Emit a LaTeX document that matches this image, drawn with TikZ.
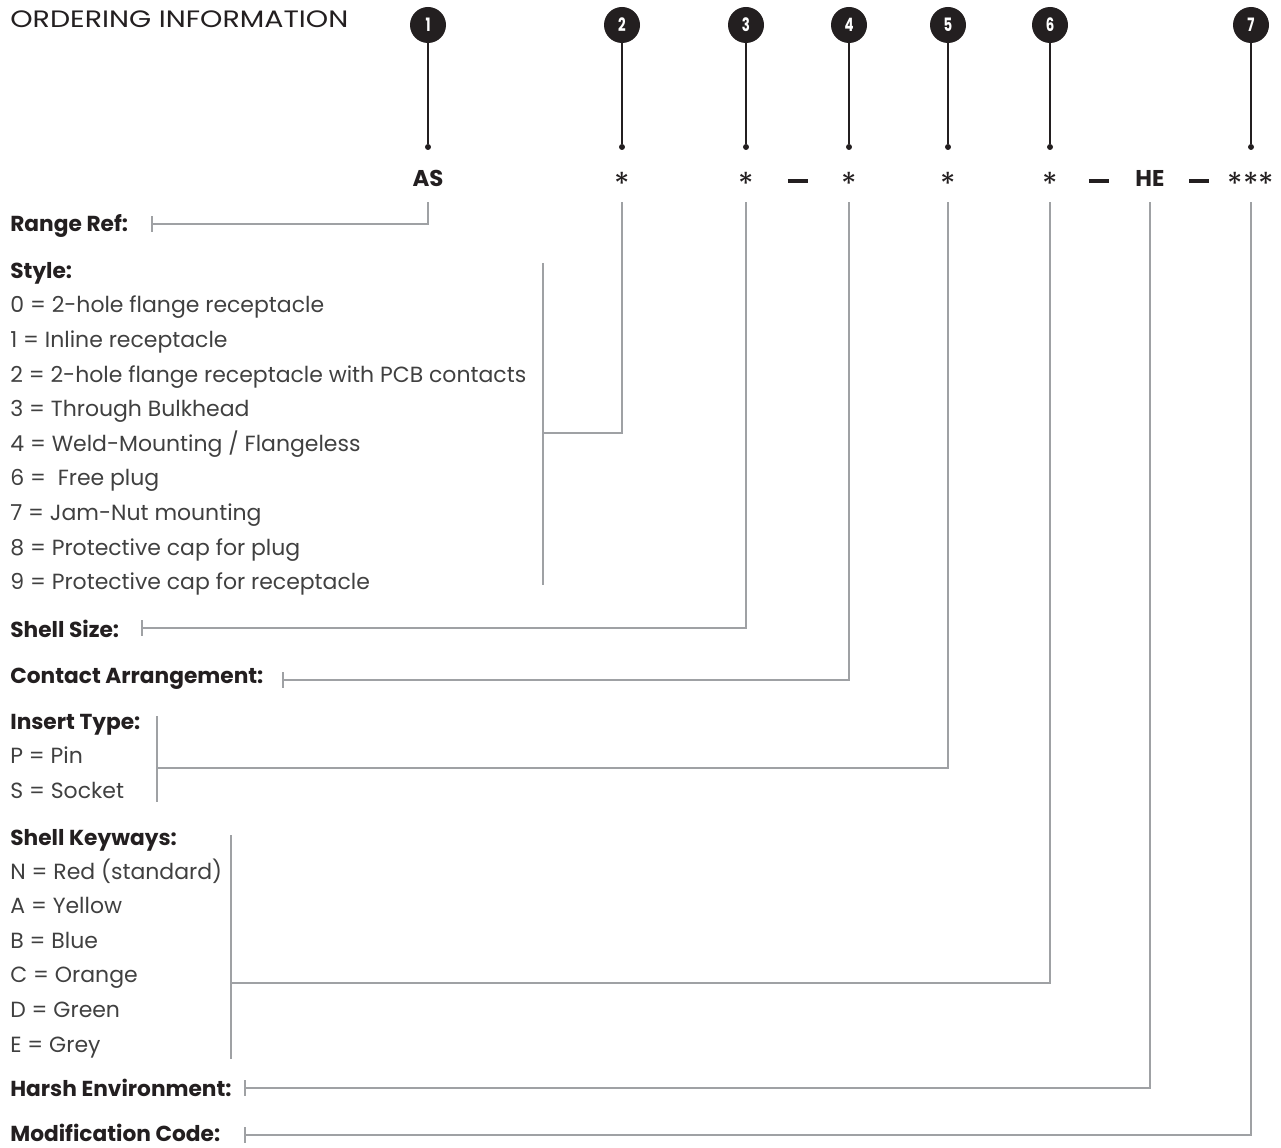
\documentclass[tikz,border=0pt]{standalone}
\usepackage{fontspec}
\setmainfont{Poppins}
\usetikzlibrary{arrows.meta, positioning, calc}
\definecolor{inkdark}{HTML}{231F20}
\definecolor{inkitem}{HTML}{404040}
\definecolor{guidegrey}{HTML}{9FA1A4}
\tikzset{
  numdisc/.style={
    circle, fill=inkdark, text=white, inner sep=0pt,
    minimum size=0.72cm, font=\bfseries\fontsize{10.5}{10.5}\selectfont
  },
  dotmark/.style={circle, fill=inkdark, inner sep=0pt, minimum size=3.4pt},
  stem/.style={draw=inkdark, line width=0.8pt},
  code/.style={
    anchor=base, inner xsep=0pt, inner ysep=8.5pt, text=inkdark,
    font=\bfseries\fontsize{13}{13}\selectfont
  },
  title/.style={anchor=base west, inner sep=0pt, text=inkdark,
    font=\fontsize{13.5}{14}\selectfont},
  head/.style={anchor=base west, inner sep=0pt, text=inkdark,
    font=\bfseries\fontsize{12.35}{13}\selectfont},
  item/.style={anchor=base west, inner sep=0pt, text=inkitem,
    font=\fontsize{12.5}{13}\selectfont},
  guide/.style={draw=guidegrey, line width=0.9pt},
  lead/.style={guide, {Bar[width=9pt,line width=0.9pt]}-}
}
\newcommand{\disc}[1]{\scalebox{0.72}[1]{#1}}
\newcommand{\wild}[1]{\raisebox{-4.6pt}[\height][0pt]{\mdseries\fontsize{18}{18}\selectfont #1}}
\newcommand{\joiner}{\rule[2.3pt]{11.4pt}{2.2pt}}

\begin{document}
\begin{tikzpicture}[x=0.02cm, y=-0.02cm]
  \useasboundingbox (0,0) rectangle (1281,1148);
  \node[title] (hTitle) at (10,28) {\scalebox{1.2}[1]{ORDERING INFORMATION}};

  % numbered discs and stems
  \node[numdisc] (n1) at (428,25) {\disc{1}};
  \node[numdisc] (n2) at (622,25) {\disc{2}};
  \node[numdisc] (n3) at (746,25) {\disc{3}};
  \node[numdisc] (n4) at (849,25) {\disc{4}};
  \node[numdisc] (n5) at (948,25) {\disc{5}};
  \node[numdisc] (n6) at (1050,25) {\disc{6}};
  \node[numdisc] (n7) at (1251,25) {\disc{7}};
  \node[dotmark] (d1) at (428,147) {};
  \node[dotmark] (d2) at (622,147) {};
  \node[dotmark] (d3) at (746,147) {};
  \node[dotmark] (d4) at (849,147) {};
  \node[dotmark] (d5) at (948,147) {};
  \node[dotmark] (d6) at (1050,147) {};
  \node[dotmark] (d7) at (1251,147) {};
  \draw[stem] (n1) -- (d1);
  \draw[stem] (n2) -- (d2);
  \draw[stem] (n3) -- (d3);
  \draw[stem] (n4) -- (d4);
  \draw[stem] (n5) -- (d5);
  \draw[stem] (n6) -- (d6);
  \draw[stem] (n7) -- (d7);

  % part number
  \node[code] (c1) at (428,187) {AS};
  \node[code] (c2) at (622,187) {\wild{*}};
  \node[code] (c3) at (746,187) {\wild{*}};
  \node[code] (m1) at (798,187) {\joiner};
  \node[code] (c4) at (849,187) {\wild{*}};
  \node[code] (c5) at (948,187) {\wild{*}};
  \node[code] (c6) at (1050,187) {\wild{*}};
  \node[code] (m2) at (1099,187) {\joiner};
  \node[code] (c8) at (1150,187) {HE};
  \node[code] (m3) at (1199,187) {\joiner};
  \node[code] (c7) at (1251,187) {\wild{***}};

  % field descriptions
  \node[head] (hRange) at (10,232) {Range Ref:};
  \node[head] (hStyle) at (10,279) {Style:};
  \foreach \t [count=\i] in {0 = 2-hole flange receptacle, 1 = Inline receptacle,
      2 = 2-hole flange receptacle with PCB contacts, 3 = Through Bulkhead,
      4 = Weld-Mounting / Flangeless, 6 = \ Free plug, 7 = Jam-Nut mounting,
      8 = Protective cap for plug, 9 = Protective cap for receptacle}
    \node[item] (st\i) at (10,{278.4+34.6*\i}) {\t};
  \node[head] (hShell) at (10,637) {Shell Size:};
  \node[head] (hContact) at (10,683) {Contact Arrangement:};
  \node[head] (hInsert) at (10,729) {Insert Type:};
  \node[item] (in1) at (10,763) {P = Pin};
  \node[item] (in2) at (10,798) {S = Socket};
  \node[head] (hKey) at (10,845) {Shell Keyways:};
  \foreach \t [count=\i] in {N = Red (standard), A = Yellow, B = Blue,
      C = Orange, D = Green, E = Grey}
    \node[item] (ky\i) at (10,{844.4+34.6*\i}) {\t};
  \node[head] (hHarsh) at (10,1096) {Harsh Environment:};
  \node[head] (hMod) at (10,1141) {Modification Code:};

  % leaders
  \coordinate (rRange) at (151,224);
  \coordinate (rShell) at (141,628);
  \coordinate (rContact) at (282,680);
  \coordinate (rHarsh) at (244,1088);
  \coordinate (rMod) at (244,1135);
  \draw[lead] (rRange) -| (c1.south);
  \draw[lead] (rShell) -| (c3.south);
  \draw[lead] (rContact) -| (c4.south);
  \draw[lead] (rHarsh) -| (c8.south);
  \draw[lead] (rMod) -| (c7.south);

  % brackets
  \coordinate (bStyleTop) at (543,263);
  \coordinate (bStyleBot) at (543,585);
  \coordinate (bStyleMid) at (543,433);
  \draw[guide] (bStyleTop) -- (bStyleBot);
  \draw[guide] (bStyleMid) -| (c2.south);
  \coordinate (bInsTop) at (157,716);
  \coordinate (bInsBot) at (157,802);
  \coordinate (bInsMid) at (157,768);
  \draw[guide] (bInsTop) -- (bInsBot);
  \draw[guide] (bInsMid) -| (c5.south);
  \coordinate (bKeyTop) at (231,835);
  \coordinate (bKeyBot) at (231,1059);
  \coordinate (bKeyMid) at (231,983);
  \draw[guide] (bKeyTop) -- (bKeyBot);
  \draw[guide] (bKeyMid) -| (c6.south);
\end{tikzpicture}
\end{document}
